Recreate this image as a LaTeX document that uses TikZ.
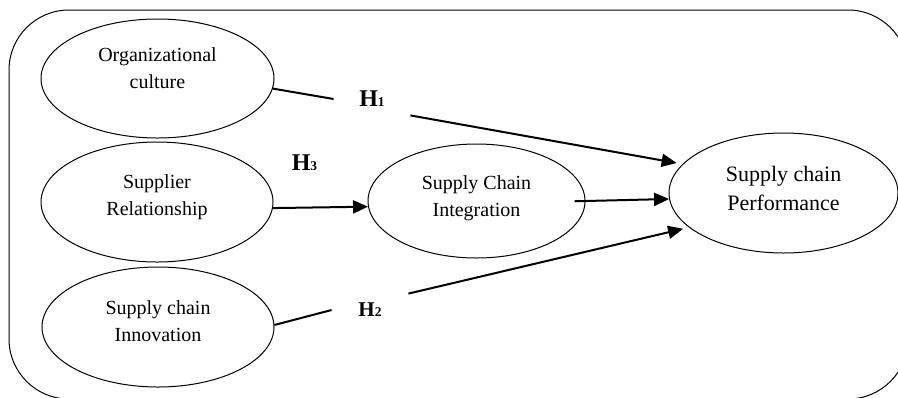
\documentclass[tikz,border=0pt]{standalone}
\usepackage{fontspec}
\setmainfont{Liberation Serif}
\usetikzlibrary{shapes.geometric, arrows.meta}
\tikzset{>={Triangle[length=7.5pt,width=6.5pt]}, % filled arrow heads
x=0.5pt, y=-0.5pt, % one unit per pixel of the sketch, y pointing down
construct/.style={ellipse, draw, line width=0.5pt, inner sep=0pt, align=center,
  font=\fontsize{10}{13.5}\selectfont}, % the ellipses of the model
lift/.style={execute at end node={\rule[-#1]{0pt}{#1}}}, % raises the text inside its ellipse
hyp/.style={inner sep=0pt, minimum width=38pt, minimum height=16pt,
  font=\bfseries\fontsize{12}{14}\selectfont}, % hypothesis labels
}
\newcommand{\hypsub}[1]{H{\fontsize{6.7}{8}\selectfont #1}}

\begin{document}
\begin{tikzpicture}
    \useasboundingbox (0,0) rectangle (898,397);
    \clip (0,0) rectangle (898,397);
    \draw[line width=0.5pt, rounded corners=30pt] (9,10) rectangle (908,399);
    \node[construct, lift=10pt, minimum width=116.5pt, minimum height=59.5pt] (OC) at (157.5,78.5) {Organizational\\culture};
    \node[construct, lift=7pt, minimum width=116pt, minimum height=60pt] (SR) at (157,202) {Supplier\\Relationship};
    \node[construct, lift=6pt, minimum width=116pt, minimum height=60pt] (SI) at (158,327) {Supply chain\\Innovation};
    \node[construct, lift=5pt, minimum width=108.5pt, minimum height=57pt] (SCI) at (476.5,201) {Supply Chain\\Integration};
    \node[construct, lift=5pt, minimum width=114.5pt, minimum height=60pt, font=\fontsize{11}{14.5}\selectfont] (SCP) at (783.5,193) {Supply chain\\Performance};
    \node[hyp] (H1) at (372,99) {\hypsub{1}};
    \node[hyp] (H3) at (304.5,162.5) {\hypsub{3}};
    \node[hyp, font=\bfseries\fontsize{10.5}{12}\selectfont] (H2) at (370,310) {\hypsub{2}};
    \draw[line width=1pt] (OC.-5) edge (H1.west)
    (H1.south east) edge[->, shorten >=3pt] (SCP.164)
    (SR.-3) edge[->] (SCI.183)
    (SCI.east) edge[->, shorten <=-5.5pt] (SCP.183.5)
    (SI.1) edge (H2.west)
    (H2.north east) edge[->, shorten >=3pt] (SCP.200);
\end{tikzpicture}
\end{document}
